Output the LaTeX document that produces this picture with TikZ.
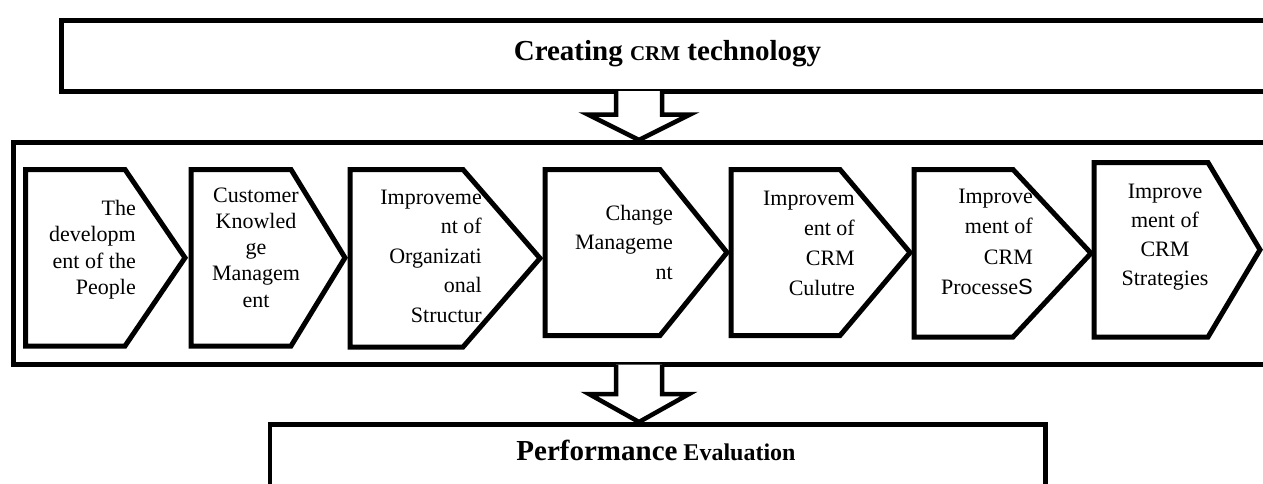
\documentclass[tikz,border=0pt]{standalone}
\usepackage{fontspec}
\setmainfont{Liberation Serif}
\newfontfamily\sansS{Liberation Sans}
\usetikzlibrary{calc}
\begin{document}
\begin{tikzpicture}[x=1pt,y=-1pt,
  frame/.style={draw, line width=5pt, rectangle, inner sep=0pt, outer sep=0pt, anchor=north west},
  chev/.style={draw, line width=5pt, line join=miter},
  barrow/.style={draw, line width=4.5pt, fill=white, line join=miter},
  ptxt/.style={inner sep=0pt, font=\fontsize{22}{#1}\selectfont},
  ttl/.style={inner sep=0pt, anchor=base, font=\fontsize{29}{34}\selectfont\bfseries}]
\useasboundingbox (0,0) rectangle (1263,483);
\clip (0,0) rectangle (1263,483);

% boxes
\node[frame, minimum width=1213pt, minimum height=71pt] (topbox) at (61,20) {};
\node[frame, minimum width=1300pt, minimum height=222.5pt] (midbox) at (13,142) {};
\node[frame, line width=4.5pt, minimum width=775.5pt, minimum height=200pt] (perfbox) at (270,424.5) {};

% titles
\node[ttl] (title) at (667.5,60) {Creating {\fontsize{21}{25}\selectfont CRM} technology};
\node[ttl] (perf) at (656,460) {Performance{\fontsize{24}{28}\selectfont{} Evaluation}};

% block arrows
\coordinate (a1s) at (639,0 |- topbox.south);
\coordinate (a1t) at (639,140);
\draw[barrow] ($(a1s)+(-23,0)$) -- ($(a1t)+(-23,-25.5)$) -- ($(a1t)+(-51,-25.5)$) -- (a1t)
  -- ($(a1t)+(51,-25.5)$) -- ($(a1t)+(23,-25.5)$) -- ($(a1s)+(23,0)$);
\coordinate (a2s) at (639,0 |- midbox.south);
\coordinate (a2t) at (639,422);
\draw[barrow] ($(a2s)+(-23,0)$) -- ($(a2t)+(-23,-28)$) -- ($(a2t)+(-50,-28)$) -- (a2t)
  -- ($(a2t)+(50,-28)$) -- ($(a2t)+(23,-28)$) -- ($(a2s)+(23,0)$);

% chevrons
\draw[chev] (25.5,169.5) -- (125,169.5) -- (185,257.75) -- (125,346) -- (25.5,346) -- cycle;
\draw[chev] (191,169.5) -- (291,169.5) -- (345,257.75) -- (291,346) -- (191,346) -- cycle;
\draw[chev] (350,169.5) -- (463,169.5) -- (540,258.25) -- (463,347) -- (350,347) -- cycle;
\draw[chev] (545,169.5) -- (660,169.5) -- (727,252.5) -- (660,335.5) -- (545,335.5) -- cycle;
\draw[chev] (731,169.5) -- (840,169.5) -- (910,252.5) -- (840,335.5) -- (731,335.5) -- cycle;
\draw[chev] (914,169.5) -- (1013,169.5) -- (1091,253.25) -- (1013,337) -- (914,337) -- cycle;
\draw[chev] (1094,162.5) -- (1208,162.5) -- (1260,249.75) -- (1208,337) -- (1094,337) -- cycle;

% chevron texts
\node[ptxt=26.5, align=right, anchor=north east] (t1) at (136,196.45) {\strut The\\developm\\ent of the\\People};
\node[ptxt=26.2, align=center, anchor=north] (t2) at (256,183.66) {\strut Customer\\Knowled\\ge\\Managem\\ent};
\node[ptxt=29.5, align=right, anchor=north east] (t3) at (482,183.35) {\strut Improveme\\nt of\\Organizati\\onal\\Structur};
\node[ptxt=29.5, align=right, anchor=north east] (t4) at (673,199.35) {\strut Change\\Manageme\\nt};
\node[ptxt=30, align=right, anchor=north east] (t5) at (855,184) {\strut Improvem\\ent of\\CRM\\Culutre};
\node[ptxt=30.5, align=right, anchor=north east] (t6) at (1033,181.65) {\strut Improve\\ment of\\CRM\\Processe{\sansS S}};
\node[ptxt=29, align=center, anchor=north] (t7) at (1165,177.7) {\strut Improve\\ment of\\CRM\\Strategies};
\end{tikzpicture}
\end{document}
